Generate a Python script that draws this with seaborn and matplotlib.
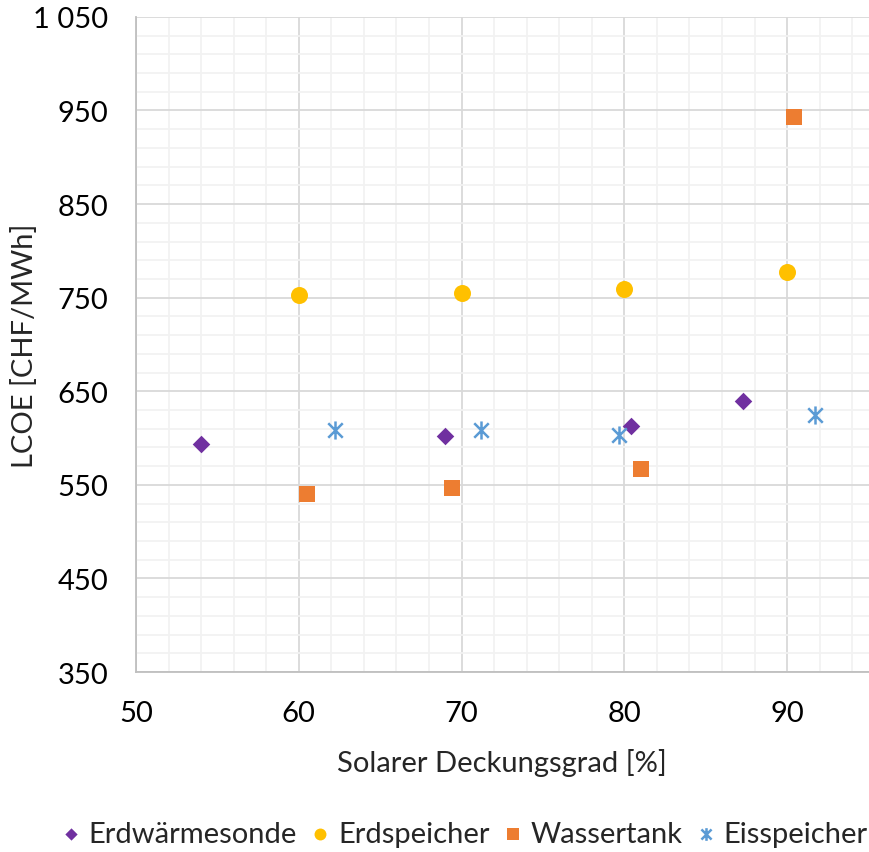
import numpy as np
import pandas as pd
import matplotlib
matplotlib.use("Agg")
import matplotlib.pyplot as plt
from matplotlib.path import Path
from matplotlib.ticker import FixedLocator, MultipleLocator, FuncFormatter
import seaborn as sns

# data
series_names = ["Erdwärmesonde", "Erdspeicher", "Wassertank", "Eisspeicher"]
erdwaermesonde_x = [54.0, 69.0, 80.4, 87.3]
erdwaermesonde_y = [594, 602, 613, 640]
erdspeicher_x = [60.0, 70.0, 80.0, 90.0]
erdspeicher_y = [753, 755, 759, 777]
wassertank_x = [60.5, 69.4, 81.0, 90.4]
wassertank_y = [540, 547, 567, 943]
eisspeicher_x = [62.2, 71.2, 79.7, 91.7]
eisspeicher_y = [609, 609, 603, 625]

colors = ["#7030A0", "#FFC000", "#ED7D31", "#5B9BD5"]

# Excel-like asterisk: X plus vertical bar
star = Path(
    [(-0.8, -0.8), (0.8, 0.8), (-0.8, 0.8), (0.8, -0.8), (0, -1), (0, 1)],
    [Path.MOVETO, Path.LINETO, Path.MOVETO, Path.LINETO, Path.MOVETO, Path.LINETO],
)

sns.set_style("white")
plt.rcParams["font.family"] = ["Lato", "DejaVu Sans"]
FS = 21

fig = plt.figure(figsize=(8.69, 8.53), dpi=100)
ax = fig.add_axes([0.1565, 0.211, 0.843, 0.768])

frames = [
    (erdwaermesonde_x, erdwaermesonde_y, "D", 80),
    (erdspeicher_x, erdspeicher_y, "o", 150),
    (wassertank_x, wassertank_y, "s", 140),
    (eisspeicher_x, eisspeicher_y, star, 170),
]
for name, color, (xs, ys, mk, size) in zip(series_names, colors, frames):
    df = pd.DataFrame({"x": xs, "y": ys})
    if mk is star:
        sns.scatterplot(data=df, x="x", y="y", ax=ax, marker=mk, s=size,
                        color=color, edgecolor=color, linewidth=1.8,
                        label=name, zorder=3)
    else:
        sns.scatterplot(data=df, x="x", y="y", ax=ax, marker=mk, s=size,
                        color=color, linewidth=0, label=name, zorder=3)

ax.set_xlim(50, 95)
ax.set_ylim(350, 1050)
ax.xaxis.set_major_locator(MultipleLocator(10))
ax.xaxis.set_minor_locator(MultipleLocator(2))
ax.yaxis.set_major_locator(FixedLocator(np.arange(350, 1051, 100)))
ax.yaxis.set_minor_locator(FixedLocator(np.arange(350, 1051, 20)))
ax.yaxis.set_major_formatter(FuncFormatter(lambda v, p: f"{int(round(v)):,}".replace(",", " ")))
ax.set_axisbelow(True)
ax.grid(which="major", color="#d9d9d9", linewidth=1.3)
ax.grid(which="minor", color="#f2f2f2", linewidth=1.3)
for s in ["top", "right"]:
    ax.spines[s].set_visible(False)
for s in ["left", "bottom"]:
    ax.spines[s].set_color("#bfbfbf")
    ax.spines[s].set_linewidth(1.3)
ax.tick_params(which="both", length=0, labelsize=FS, colors="black")
ax.tick_params(axis="x", pad=20)
ax.tick_params(axis="y", pad=20)
ax.set_xlabel("Solarer Deckungsgrad [%]", fontsize=FS, labelpad=16)
ax.set_ylabel("LCOE [CHF/MWh]", fontsize=FS)
ax.yaxis.set_label_coords(-0.134, 0.5)

ax.get_legend().remove()
handles, labels = ax.get_legend_handles_labels()
fig.legend(handles, labels, loc="center", bbox_to_anchor=(0.535, 0.021), ncol=4,
           frameon=False, fontsize=FS, handlelength=0.6, handletextpad=0.3,
           columnspacing=0.5, markerscale=0.7)

fig.savefig("out.png", dpi=100)
